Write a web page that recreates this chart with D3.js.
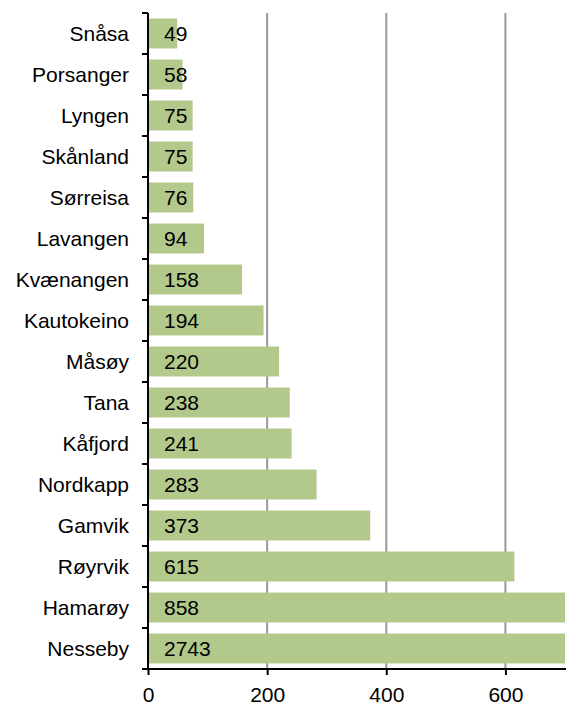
<!DOCTYPE html>
<html><head><meta charset="utf-8">
<script src="https://cdn.jsdelivr.net/npm/d3@7"></script>
<style>body{margin:0;background:#fff}svg{display:block}text{font-family:"Liberation Sans",Arial,sans-serif}</style>
</head><body>
<svg id="c" width="567" height="702"></svg>
<script>
const categories = ["Snåsa","Porsanger","Lyngen","Skånland","Sørreisa","Lavangen","Kvænangen","Kautokeino","Måsøy","Tana","Kåfjord","Nordkapp","Gamvik","Røyrvik","Hamarøy","Nesseby"];
const values = [49,58,75,75,76,94,158,194,220,238,241,283,373,615,858,2743];
const xTicks = [0,200,400,600];
const xMax = 700;

(function(){
const svg = d3.select("#c");
const pLeft = 148, pRight = 565, pTop = 13, pBottom = 669;
const fs = 21;
const x = d3.scaleLinear().domain([0, xMax]).range([pLeft, pRight]);
const y = d3.scaleBand().domain(categories).range([pTop, pBottom]).paddingInner(0.27).paddingOuter(0.135);

// grid
svg.append("g").selectAll("line").data(xTicks.filter(d=>d>0)).join("line")
  .attr("x1", d=>x(d)).attr("x2", d=>x(d)).attr("y1", pTop).attr("y2", pBottom)
  .attr("stroke", "#999").attr("stroke-width", 2);

const data = categories.map((c,i)=>({c, v: values[i]}));
svg.append("g").selectAll("rect").data(data).join("rect")
  .attr("x", x(0)+1).attr("y", d=>y(d.c))
  .attr("width", d=>x(Math.min(d.v, xMax)) - x(0) - 1)
  .attr("height", y.bandwidth())
  .attr("fill", "#b3c98b");

svg.append("g").selectAll("text").data(data).join("text")
  .attr("x", x(0)+16).attr("y", d=>y(d.c)+y.bandwidth()/2)
  .attr("dy", "0.36em").attr("font-size", fs).attr("fill", "#000")
  .text(d=>d.v);

// y axis
const step = y.step();
const yAxisG = svg.append("g");
yAxisG.append("line").attr("x1", pLeft).attr("x2", pLeft).attr("y1", pTop).attr("y2", pBottom).attr("stroke", "#000").attr("stroke-width", 2);
const edges = d3.range(categories.length + 1).map(i => pTop + i*step);
yAxisG.selectAll("line.t").data(edges).join("line").attr("class","t")
  .attr("x1", pLeft-6).attr("x2", pLeft).attr("y1", d=>d).attr("y2", d=>d)
  .attr("stroke", "#000").attr("stroke-width", 2);
yAxisG.selectAll("text").data(categories).join("text")
  .attr("x", 129).attr("y", d=>y(d)+y.bandwidth()/2).attr("dy","0.36em")
  .attr("text-anchor","end").attr("font-size", fs).text(d=>d);

// x axis
const xAxisG = svg.append("g").attr("transform", `translate(0,${pBottom})`);
const xa = d3.axisBottom(x).tickValues(xTicks).tickSize(6).tickPadding(12).tickSizeOuter(0);
xAxisG.call(xa);
xAxisG.select(".domain").attr("stroke-width", 2).attr("d", `M${pLeft-6},0H${pRight+1}`);
xAxisG.selectAll(".tick line").attr("stroke-width", 2);
xAxisG.selectAll(".tick text").attr("font-size", fs).attr("font-family", "Liberation Sans, Arial, sans-serif").attr("fill","#000");
})();
</script>
</body></html>
